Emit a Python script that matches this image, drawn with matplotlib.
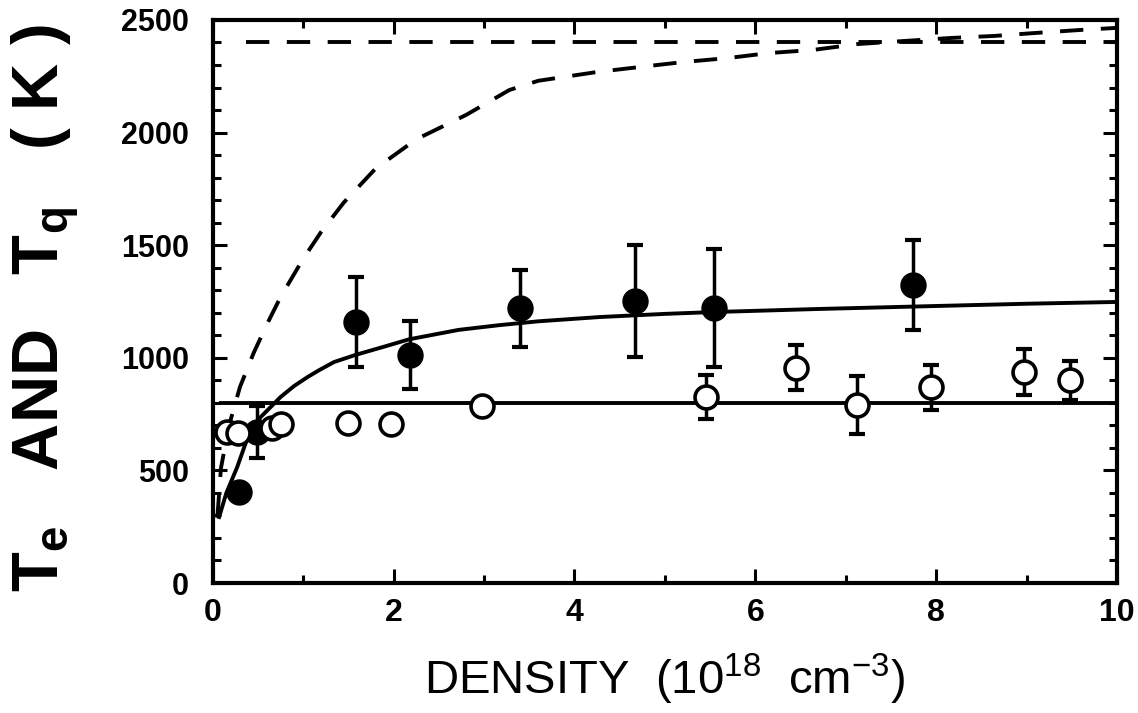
import numpy as np
import matplotlib
matplotlib.use("Agg")
import matplotlib.pyplot as plt
from matplotlib import font_manager
from matplotlib.ticker import MultipleLocator

installed = {f.name for f in font_manager.fontManager.ttflist}
narrow = 'Liberation Sans Narrow' if 'Liberation Sans Narrow' in installed else 'Liberation Sans'

plt.rcParams['mathtext.fontset'] = 'custom'
plt.rcParams['mathtext.rm'] = 'Liberation Sans:bold'
plt.rcParams['mathtext.sf'] = narrow

# filled circles (with error bars)
filled_x = [0.29, 0.49, 1.58, 2.18, 3.40, 4.67, 5.54, 7.74]
filled_y = [404, 670, 1160, 1012, 1220, 1252, 1221, 1323]
filled_err = [0, 115, 200, 150, 170, 250, 260, 200]

# open circles
open_x = [0.16, 0.28, 0.65, 0.75, 1.49, 1.97, 2.98, 5.45, 6.45, 7.13, 7.94, 8.97, 9.48]
open_y = [670, 668, 688, 708, 712, 706, 786, 826, 955, 790, 870, 937, 901]
open_err = [0, 0, 0, 0, 0, 0, 0, 98, 100, 128, 100, 100, 87]

# solid fit curve
fit_x = [0.07, 0.15, 0.27, 0.38, 0.53, 0.75, 0.9, 1.05, 1.18, 1.34, 1.58, 1.9, 2.17,
         2.72, 3.17, 3.6, 4.28, 5.0, 5.53, 6.72, 8.0, 9.0, 10.0]
fit_y = [293, 400, 515, 640, 737, 826, 875, 915, 946, 981, 1013, 1050, 1082,
         1124, 1145, 1162, 1181, 1195, 1203, 1217, 1230, 1240, 1248]

# dashed curve
dash_x = [0.05, 0.09, 0.18, 0.3, 0.45, 0.6, 0.75, 1.0, 1.2, 1.45, 1.8, 2.25,
          2.8, 3.28, 3.6, 4.25, 4.72, 5.2, 5.7, 6.15, 6.64, 7.13, 7.66, 8.16,
          8.64, 9.09, 9.61, 10.0]
dash_y = [290, 510, 700, 870, 1020, 1150, 1270, 1440, 1560, 1690, 1840, 1970,
          2078, 2189, 2230, 2269, 2291, 2313, 2331, 2353, 2367, 2393, 2407, 2420,
          2429, 2442, 2456, 2465]

# horizontal reference levels
tq_level = 800
tq_start = 0.09
upper_level = 2400
upper_start = 0.37

fig = plt.figure(figsize=(11.38, 7.13), dpi=100)
ax = fig.add_axes([0.187, 0.1823, 0.7945, 0.7897])

lw = 2.8
dash_pat = (6, 4.5)
ax.plot(fit_x, fit_y, color='black', lw=lw, zorder=2)
ax.plot(dash_x, dash_y, color='black', lw=lw, dashes=dash_pat, zorder=2)
ax.plot([tq_start, 10], [tq_level, tq_level], color='black', lw=lw, zorder=2)
ax.plot([upper_start, 10], [upper_level, upper_level], color='black', lw=lw,
        dashes=dash_pat, zorder=2)

ferr = np.array(filled_err, dtype=float)
ax.errorbar(filled_x, filled_y, yerr=np.where(ferr > 0, ferr, np.nan), fmt='none',
            ecolor='black', elinewidth=2.5, capsize=6, capthick=3, zorder=3)
ax.plot(filled_x, filled_y, 'o', ms=18, color='black', zorder=4)

oerr = np.array(open_err, dtype=float)
ax.errorbar(open_x, open_y, yerr=np.where(oerr > 0, oerr, np.nan), fmt='none',
            ecolor='black', elinewidth=2.5, capsize=6, capthick=3, zorder=3)
ax.plot(open_x, open_y, 'o', ms=16.5, mfc='white', mec='black', mew=2.6, zorder=5)

ax.set_xlim(0, 10)
ax.set_ylim(0, 2500)
ax.xaxis.set_major_locator(MultipleLocator(2))
ax.xaxis.set_minor_locator(MultipleLocator(1))
ax.yaxis.set_major_locator(MultipleLocator(500))
ax.yaxis.set_minor_locator(MultipleLocator(100))
ax.tick_params(which='both', direction='in', top=True, right=True, width=2.2, color='black')
ax.tick_params(which='major', length=10)
ax.tick_params(which='minor', length=6)
ax.tick_params(axis='x', pad=11)
ax.tick_params(axis='y', pad=17)
for sp in ax.spines.values():
    sp.set_linewidth(3)

for t in ax.get_xticklabels():
    t.set_fontfamily([narrow, 'DejaVu Sans'])
    t.set_fontweight('bold')
    t.set_fontsize(23)
for t in ax.get_yticklabels():
    t.set_fontfamily(['Liberation Sans', 'DejaVu Sans'])
    t.set_fontweight('bold')
    t.set_fontsize(22)

fig.text(665 / 1138, 1 - 694 / 713,
         r"DENSITY  (10$\mathsf{^{18}}$  cm$\mathsf{^{-3}}$)",
         family=[narrow, 'DejaVu Sans'], fontsize=34, ha='center', va='baseline')
fig.text(46 / 1138, 1 - 308 / 713,
         r"T$\mathrm{_{e}}$   AND   T$\mathrm{_{q}}$   ( K )",
         family=['Liberation Sans', 'DejaVu Sans'], fontweight='bold', fontsize=47,
         rotation=90, ha='center', va='center')

fig.savefig("out.png", dpi=100)
